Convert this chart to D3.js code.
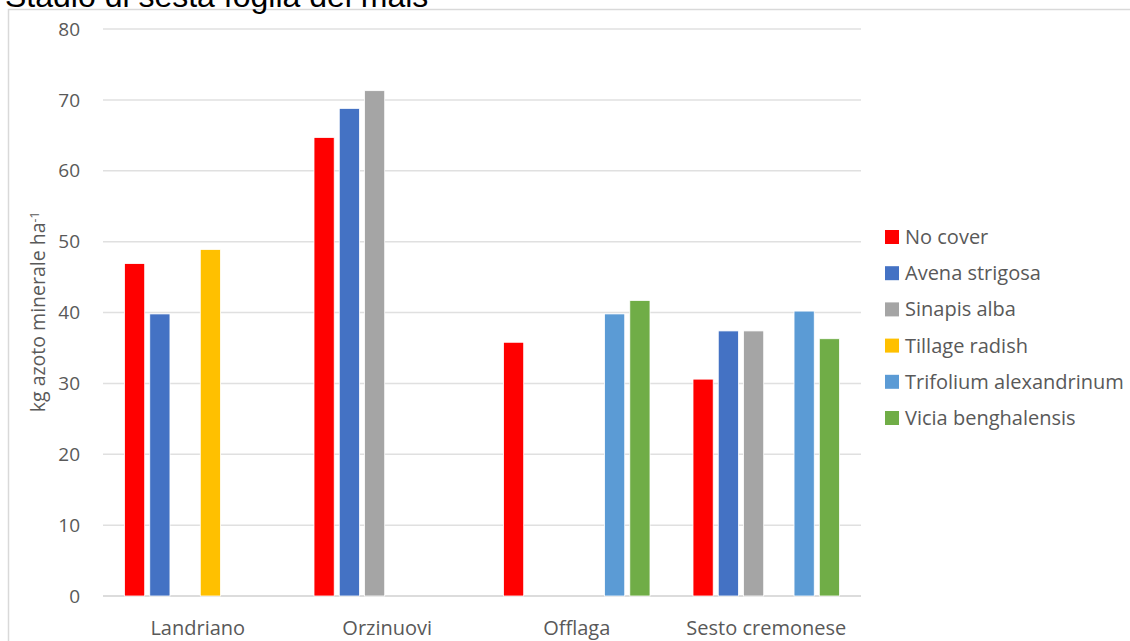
<!DOCTYPE html>
<html>
<head>
<meta charset="utf-8">
<script src="https://cdn.jsdelivr.net/npm/d3@7"></script>
<style>
  body { margin: 0; background: #fff; overflow: hidden; }
  text { font-family: "Open Sans", "Noto Sans", sans-serif; }
</style>
</head>
<body>
<div id="chart"></div>
<script>
// data
var categories = ["Landriano", "Orzinuovi", "Offlaga", "Sesto cremonese"];
var series = ["No cover", "Avena strigosa", "Sinapis alba", "Tillage radish", "Trifolium alexandrinum", "Vicia benghalensis"];
var colors = ["#ff0000", "#4472c4", "#a5a5a5", "#ffc000", "#5b9bd5", "#70ad47"];
// one array per series, null = no bar
var noCover   = [46.9, 64.7, 35.8, 30.6];
var avena     = [39.8, 68.8, null, 37.4];
var sinapis   = [null, 71.3, null, 37.4];
var tillage   = [48.9, null, null, null];
var trifolium = [null, null, 39.8, 40.2];
var vicia     = [null, null, 41.7, 36.3];
var yTicks = [0, 10, 20, 30, 40, 50, 60, 70, 80];

var values = [noCover, avena, sinapis, tillage, trifolium, vicia];

var W = 1130, H = 641;
var margin = {top: 29, left: 103, right: 269, bottom: 45};

var svg = d3.select("#chart").append("svg")
    .attr("width", W)
    .attr("height", H);

// chart frame
svg.append("path")
    .attr("d", "M8.5," + H + "V9.5H" + W)
    .attr("fill", "none")
    .attr("stroke", "#d9d9d9")
    .attr("stroke-width", 1.5);

// title, sitting at the very top like in the picture
svg.append("text")
    .attr("x", 5)
    .attr("y", 7)
    .style("font-family", "Liberation Sans, Arial, sans-serif")
    .attr("font-size", "32px")
    .attr("fill", "#000")
    .text("Stadio di sesta foglia del mais");

var x0 = d3.scaleBand()
    .domain(categories)
    .range([margin.left, W - margin.right]);

var x1 = d3.scaleBand()
    .domain(series)
    .range([21.5, x0.bandwidth() - 21.5])
    .paddingInner(0.2);

var y = d3.scaleLinear()
    .domain([0, 80])
    .range([H - margin.bottom, margin.top]);

// gridlines
svg.append("g")
  .selectAll("line")
  .data(yTicks)
  .enter()
  .append("line")
    .attr("x1", margin.left)
    .attr("x2", W - margin.right)
    .attr("y1", function(d) { return y(d); })
    .attr("y2", function(d) { return y(d); })
    .attr("stroke", function(d) { return d === 0 ? "#d0d0d0" : "#e0e0e0"; })
    .attr("stroke-width", 1.5);

// y tick labels
svg.append("g")
  .selectAll("text")
  .data(yTicks)
  .enter()
  .append("text")
    .attr("x", 80)
    .attr("y", function(d) { return y(d); })
    .attr("dy", "0.35em")
    .attr("text-anchor", "end")
    .attr("font-size", "19px")
    .attr("fill", "#595959")
    .text(function(d) { return d; });

// bars
var groups = svg.append("g")
  .selectAll("g")
  .data(categories)
  .enter()
  .append("g")
    .attr("transform", function(d) { return "translate(" + x0(d) + ",0)"; });

groups.selectAll("rect")
  .data(function(c, i) {
    return series.map(function(s, j) { return {s: s, j: j, v: values[j][i]}; })
      .filter(function(d) { return d.v != null; });
  })
  .enter()
  .append("rect")
    .attr("x", function(d) { return x1(d.s); })
    .attr("y", function(d) { return y(d.v); })
    .attr("width", x1.bandwidth())
    .attr("height", function(d) { return y(0) - y(d.v); })
    .attr("fill", function(d) { return colors[d.j]; })
    .attr("stroke", "#fff")
    .attr("stroke-width", 0.8);

// category labels
svg.append("g")
  .selectAll("text")
  .data(categories)
  .enter()
  .append("text")
    .attr("x", function(d) { return x0(d) + x0.bandwidth() / 2; })
    .attr("y", 635)
    .attr("text-anchor", "middle")
    .attr("font-size", "20px")
    .attr("fill", "#595959")
    .text(function(d) { return d; });

// y axis title
var yt = svg.append("text")
    .attr("transform", "translate(45,312) rotate(-90)")
    .attr("text-anchor", "middle")
    .attr("font-size", "19.5px")
    .attr("fill", "#595959");
yt.append("tspan").text("kg azoto minerale ha");
yt.append("tspan").attr("dy", "-0.5em").attr("font-size", "12px").text("-1");

// legend
var legend = svg.append("g")
  .selectAll("g")
  .data(series)
  .enter()
  .append("g")
    .attr("transform", function(d, i) { return "translate(885," + (237 + i * 36.2) + ")"; });

legend.append("rect")
    .attr("x", 0)
    .attr("y", -7)
    .attr("width", 14)
    .attr("height", 14)
    .attr("fill", function(d, i) { return colors[i]; });

legend.append("text")
    .attr("x", 20)
    .attr("dy", "0.35em")
    .attr("font-size", "20px")
    .attr("fill", "#595959")
    .text(function(d) { return d; });
</script>
</body>
</html>
